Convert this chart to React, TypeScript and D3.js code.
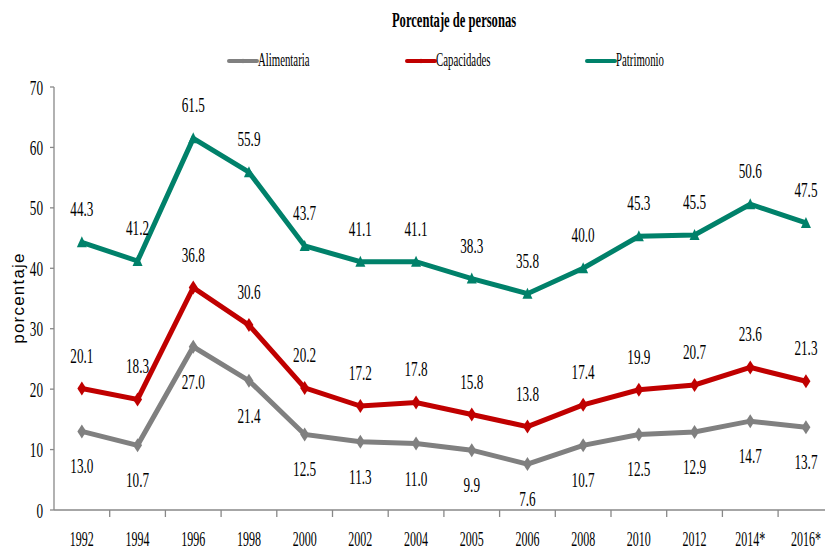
import React, { useEffect, useRef } from "react";
import * as d3 from "d3";

const years = ["1992", "1994", "1996", "1998", "2000", "2002", "2004", "2005", "2006", "2008", "2010", "2012", "2014*", "2016*"];
const alimentaria = [13.0, 10.7, 27.0, 21.4, 12.5, 11.3, 11.0, 9.9, 7.6, 10.7, 12.5, 12.9, 14.7, 13.7];
const capacidades = [20.1, 18.3, 36.8, 30.6, 20.2, 17.2, 17.8, 15.8, 13.8, 17.4, 19.9, 20.7, 23.6, 21.3];
const patrimonio = [44.3, 41.2, 61.5, 55.9, 43.7, 41.1, 41.1, 38.3, 35.8, 40.0, 45.3, 45.5, 50.6, 47.5];
const yTicks = [0, 10, 20, 30, 40, 50, 60, 70];

const series = [
  { name: "Alimentaria", values: alimentaria, color: "#808080", marker: "diamond", below: true },
  { name: "Capacidades", values: capacidades, color: "#C00000", marker: "diamond", below: false },
  { name: "Patrimonio", values: patrimonio, color: "#00816A", marker: "triangle", below: false },
];

const SERIF = "'Liberation Serif', 'Times New Roman', serif";
const SQUEEZE = 0.6;

const markerPath = (kind: string) =>
  kind === "triangle" ? "M0,-6L5,5L-5,5Z" : "M0,-7L4.5,0L0,7L-4.5,0Z";

export default function App() {
  const ref = useRef<SVGSVGElement>(null);

  useEffect(() => {
    const svg = d3.select(ref.current);
    svg.selectAll("*").remove();

    const left = 54;
    const x = d3.scaleBand().domain(years).range([left, left + 14 * 55.7]).padding(0);
    const y = d3.scaleLinear().domain([0, 70]).range([510, 87]);
    const cx = (d: string) => (x(d) as number) + x.bandwidth() / 2;

    // squeezed serif text helper
    const label = (g: any, tx: number, ty: number, str: string, size: number, anchor = "middle", bold = false) => {
      g.append("g")
        .attr("transform", `translate(${tx},${ty}) scale(${SQUEEZE},1)`)
        .append("text")
        .attr("text-anchor", anchor)
        .attr("font-family", SERIF)
        .attr("font-size", size)
        .attr("font-weight", bold ? "bold" : "normal")
        .attr("fill", "#000")
        .text(str);
    };

    // title
    label(svg, 454, 27, "Porcentaje de personas", 21, "middle", true);

    // legend
    const legendX = [229, 407, 587];
    series.forEach((s, i) => {
      const lg = svg.append("g").attr("transform", `translate(${legendX[i]},61)`);
      lg.append("line").attr("x1", 0).attr("x2", 28).attr("stroke", s.color).attr("stroke-width", 4).attr("stroke-linecap", "round");
      lg.append("path").attr("d", markerPath(s.marker)).attr("transform", "translate(14,0) scale(0.35)").attr("fill", s.color);
      label(lg, 29, 5, s.name, 18, "start");
    });

    // y axis title
    svg
      .append("text")
      .attr("transform", "translate(24,298) rotate(-90)")
      .attr("text-anchor", "middle")
      .attr("font-family", "'Liberation Sans', Arial, sans-serif")
      .attr("font-size", 17)
      .attr("letter-spacing", 1.2)
      .text("porcentaje");

    // axes
    const axisColor = "#888888";
    svg.append("line").attr("x1", left).attr("x2", left).attr("y1", y(70)).attr("y2", y(0)).attr("stroke", axisColor).attr("stroke-width", 1.3);
    svg.append("line").attr("x1", left).attr("x2", 825).attr("y1", y(0)).attr("y2", y(0)).attr("stroke", axisColor).attr("stroke-width", 1.5);

    yTicks.forEach((t) => {
      svg.append("line").attr("x1", left - 4).attr("x2", left).attr("y1", y(t)).attr("y2", y(t)).attr("stroke", axisColor).attr("stroke-width", 1.3);
      label(svg, 43, y(t) + 7.5, String(t), 22, "end");
    });

    years.forEach((yr, i) => {
      if (i > 0) {
        const bx = x(yr) as number;
        svg.append("line").attr("x1", bx).attr("x2", bx).attr("y1", y(0)).attr("y2", y(0) + 7).attr("stroke", axisColor).attr("stroke-width", 1.3);
      }
      label(svg, cx(yr), 546, yr, 20);
    });

    // lines, markers, labels
    const line = d3
      .line<number>()
      .x((_, i) => cx(years[i]))
      .y((d) => y(d));

    series.forEach((s) => {
      svg
        .append("path")
        .datum(s.values)
        .attr("d", line)
        .attr("fill", "none")
        .attr("stroke", s.color)
        .attr("stroke-width", 5)
        .attr("stroke-linejoin", "miter");

      svg
        .selectAll(null)
        .data(s.values)
        .join("path")
        .attr("d", markerPath(s.marker))
        .attr("transform", (d, i) => `translate(${cx(years[i])},${y(d)})`)
        .attr("fill", s.color);

      s.values.forEach((v, i) => {
        const ty = s.below ? y(v) + 42 : y(v) - 26;
        label(svg, cx(years[i]), ty, v.toFixed(1), 22);
      });
    });
  }, []);

  return (
    <svg
      ref={ref}
      width={825}
      height={550}
      style={{ position: "absolute", left: 0, top: 0, background: "#fff" }}
    />
  );
}
